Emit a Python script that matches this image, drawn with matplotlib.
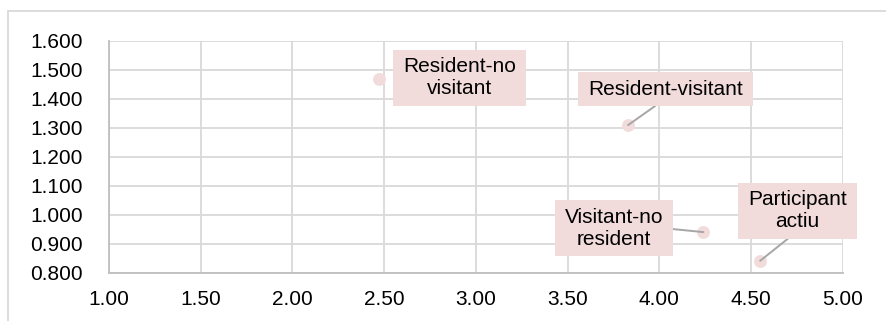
import matplotlib
matplotlib.use("Agg")
import matplotlib.pyplot as plt
from matplotlib.path import Path
from matplotlib.patches import Rectangle

plt.rcParams['font.family'] = ['Liberation Sans', 'DejaVu Sans']

# data
labels = ["Resident-no\nvisitant", "Resident-visitant", "Visitant-no\nresident", "Participant\nactiu"]
x_vals = [2.47, 3.83, 4.24, 4.55]
y_vals = [1.468, 1.309, 0.940, 0.841]
x_ticks = [1.00, 1.50, 2.00, 2.50, 3.00, 3.50, 4.00, 4.50, 5.00]
y_ticks = [0.8, 0.9, 1.0, 1.1, 1.2, 1.3, 1.4, 1.5, 1.6]

# label placement (offsets in pixels from point) and leader anchor
offsets = [(81, 1), (37.5, 36), (-89.5, 4), (37, 50)]
leaders = [None, (0.5, 0.0), (1.0, 0.5), (0.5, 0.0)]

pink = '#F2DCDB'
grid_c = '#D9D9D9'
lead_c = '#A6A6A6'

fig = plt.figure(figsize=(8.86, 3.21), dpi=100)
W, H = 886, 321
ax = fig.add_axes([109 / W, 1 - 272.7 / H, (842.7 - 109) / W, (272.7 - 40.7) / H])

# outer chart frame (only top and left visible)
fig.add_artist(Rectangle((8 / W, -0.2), 1.5, 1 - 10.5 / H + 0.2, transform=fig.transFigure,
                         fill=False, edgecolor=grid_c, linewidth=1.3))

ax.set_xlim(1.0, 5.0)
ax.set_ylim(0.8, 1.6)
ax.set_xticks(x_ticks)
ax.set_yticks(y_ticks)
ax.set_xticklabels([f"{v:.2f}" for v in x_ticks])
ax.set_yticklabels([f"{v:.3f}" for v in y_ticks])
ax.tick_params(axis='both', length=0, labelsize=15, colors='black')
ax.tick_params(axis='x', pad=12.5)
ax.tick_params(axis='y', pad=19)
ax.grid(True, color=grid_c, linewidth=1.3)
ax.set_axisbelow(True)
for s in ['top', 'right']:
    ax.spines[s].set_visible(False)
for s in ['left', 'bottom']:
    ax.spines[s].set_color('#BFBFBF')
    ax.spines[s].set_linewidth(1.3)

ax.plot(x_vals, y_vals, linestyle='none', marker='o', markersize=9.3,
        markerfacecolor=pink, markeredgecolor='none', zorder=3, clip_on=False)


def box_style(x0, y0, width, height, mutation_size):
    px, py = 10, 7.5
    xa, ya = x0 - px, y0 - py
    xb, yb = x0 + width + px, y0 + height + py
    return Path([(xa, ya), (xb, ya), (xb, yb), (xa, yb), (xa, ya)], closed=True)


for lab, xv, yv, off, rel in zip(labels, x_vals, y_vals, offsets, leaders):
    kw = {}
    if rel is not None:
        kw['arrowprops'] = dict(arrowstyle='-', color=lead_c, lw=1.4, shrinkA=0, shrinkB=0,
                                relpos=rel)
    ax.annotate(lab, xy=(xv, yv), xytext=off, textcoords='offset pixels',
                ha='center', va='center', fontsize=15, multialignment='center',
                linespacing=1.2, annotation_clip=False, zorder=4,
                bbox=dict(boxstyle=box_style, facecolor=pink, edgecolor='none'), **kw)

fig.savefig('out.png', dpi=100)
